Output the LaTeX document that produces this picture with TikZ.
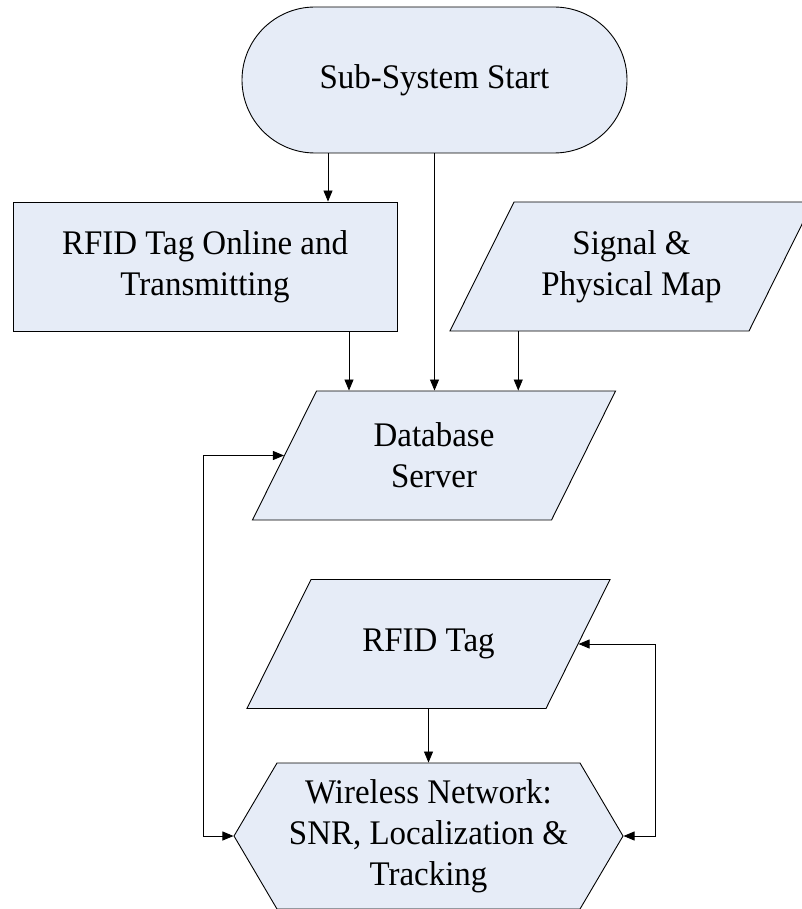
\documentclass[tikz,border=0pt]{standalone}
\usepackage{fontspec}
\setmainfont{Liberation Serif}[FakeStretch=0.955]
\usetikzlibrary{shapes.geometric,shapes.symbols,arrows.meta}
\definecolor{boxfill}{HTML}{E6ECF7}
\newcommand{\iotext}[1]{\parbox[c][129pt][c]{235pt}{\centering #1}}
\tikzstyle{base} = [draw, fill=boxfill, line width=0.9pt, align=center,
    font=\fontsize{34.5}{41}\selectfont, inner sep=0pt]
\tikzstyle{term} = [base, rectangle, rounded corners=73pt,
    minimum width=385pt, minimum height=146pt]
\tikzstyle{process} = [base, rectangle, minimum width=384pt, minimum height=129pt]
\tikzstyle{io} = [base, trapezium, trapezium left angle=63.6,
    trapezium right angle=116.4]
\tikzstyle{display} = [base, signal, signal to=east and west,
    signal pointer angle=119, minimum width=389pt, minimum height=146pt]
\tikzstyle{line} = [draw, line width=0.8pt]

\begin{document}
\begin{tikzpicture}[x=1pt, y=-1pt, >={Triangle[length=11pt,width=9pt]}]
    \useasboundingbox (0,0) rectangle (802,909);
    % We start by placing the blocks
    \node [term] (start) at (434.5,80) {Sub-System Start};
    \node [process] (online) at (205,266.5) {RFID Tag Online and\\Transmitting};
    \node [io] (map) at (631.5,266.5) {\iotext{Signal \&\\Physical Map}};
    \node [io] (db) at (434,455.5) {\iotext{Database\\Server}};
    \node [io] (tag) at (428.5,644) {\iotext{RFID Tag}};
    \node [display] (net) at (428.5,836) {Wireless Network:\\SNR, Localization \&\\Tracking};
    \coordinate (leftbus) at (203,0);
    \coordinate (rightbus) at (655,0);
    % Edges into the database server
    \draw [line, ->] ([xshift=-106.5pt]start.south) -- ([xshift=-106.5pt]start.south |- online.north);
    \draw [line, ->] (start.south) -- (start.south |- db.north);
    \draw [line, ->] ([xshift=144pt]online.south) -- ([xshift=144pt]online.south |- db.north);
    \draw [line, ->] ([xshift=69pt]map.bottom left corner) -- ([xshift=69pt]map.bottom left corner |- db.north);
    % Tag to network and the two loops
    \draw [line, ->] (tag.south) -- (net.north);
    \draw [line, <->] (db.west) -- (db.west -| leftbus) |- (net.west);
    \draw [line, <->] (tag.east) -- (tag.east -| rightbus) |- (net.east);
\end{tikzpicture}
\end{document}
